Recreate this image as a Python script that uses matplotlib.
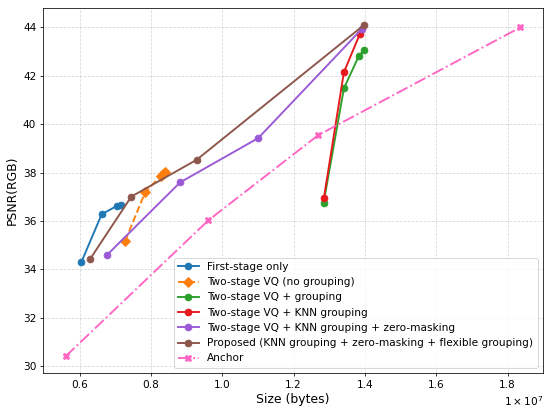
import matplotlib
matplotlib.use("Agg")
import matplotlib.pyplot as plt

# sizes in bytes, PSNR in dB
first_x = [6.05e6, 6.62e6, 7.05e6, 7.17e6]
first_y = [34.30, 36.28, 36.63, 36.68]

nogroup_x = [7.28e6, 7.84e6, 8.28e6, 8.33e6, 8.39e6]
nogroup_y = [35.19, 37.19, 37.88, 37.95, 38.02]

group_x = [12.84e6, 13.41e6, 13.83e6, 13.98e6]
group_y = [36.74, 41.48, 42.83, 43.07]

knn_x = [12.85e6, 13.41e6, 13.86e6]
knn_y = [36.96, 42.15, 43.74]

zm_x = [6.77e6, 8.82e6, 11.01e6, 13.92e6]
zm_y = [34.60, 37.60, 39.43, 43.95]

prop_x = [6.30e6, 7.45e6, 9.28e6, 13.98e6]
prop_y = [34.44, 37.01, 38.53, 44.11]

anchor_x = [5.61e6, 9.61e6, 12.69e6, 18.35e6]
anchor_y = [30.41, 36.03, 39.55, 44.00]

fig = plt.figure(figsize=(8, 6.0073), dpi=68.75)
ax = fig.add_subplot(111)
fig.subplots_adjust(left=0.078, right=0.987, top=0.980, bottom=0.097)

ax.plot(first_x, first_y, 'o-', color='#1f77b4', lw=2, ms=7, label='First-stage only')
ax.plot(nogroup_x, nogroup_y, 'D--', color='#ff7f0e', lw=2, ms=7, label='Two-stage VQ (no grouping)')
ax.plot(group_x, group_y, 'o-', color='#2ca02c', lw=2, ms=7, label='Two-stage VQ + grouping')
ax.plot(knn_x, knn_y, 'o-', color='#e8191c', lw=2, ms=7, label='Two-stage VQ + KNN grouping')
ax.plot(zm_x, zm_y, 'o-', color='#9a5ad6', lw=2, ms=7, label='Two-stage VQ + KNN grouping + zero-masking')
ax.plot(prop_x, prop_y, 'o-', color='#8c564b', lw=2, ms=7,
        label='Proposed (KNN grouping + zero-masking + flexible grouping)')
ax.plot(anchor_x, anchor_y, 'X-.', color='#ff66c4', lw=2, ms=7, label='Anchor')

ax.set_xlabel("Size (bytes)", fontsize=13)
ax.set_ylabel("PSNR(RGB)", fontsize=13)
ax.tick_params(labelsize=11)
ax.ticklabel_format(axis='x', style='sci', scilimits=(0, 0))
ax.xaxis.get_offset_text().set_visible(False)
ax.text(1.0, -0.058, r'$1\times10^{7}$', transform=ax.transAxes,
        ha='right', va='top', fontsize=11)
ax.grid(True, linestyle='--', alpha=0.5)
ax.legend(loc='lower right', fontsize=11)

fig.savefig("out.png")
